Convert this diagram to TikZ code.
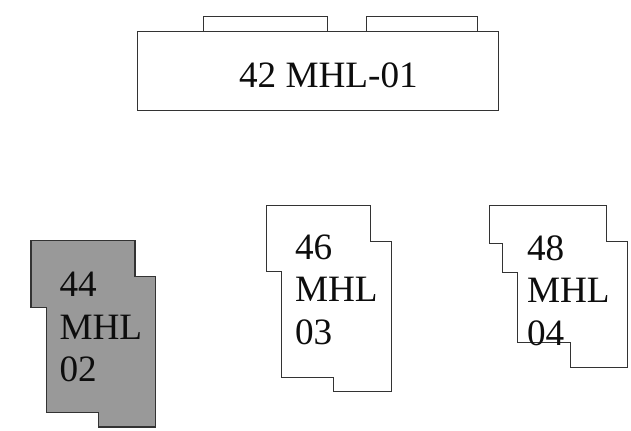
\documentclass[tikz,border=0pt]{standalone}
\usepackage{fontspec}
\setmainfont{Liberation Serif}
\definecolor{wingfill}{HTML}{999999}
\definecolor{wingline}{HTML}{333333}
\tikzset{
  outline/.style={draw=wingline,line width=0.75pt,line join=miter},
  wing/.style={outline,fill=white},
  graywing/.style={outline,fill=wingfill,line width=1pt},
  label/.style={inner sep=0pt,outer sep=0pt,font=\fontsize{27.9pt}{32pt}\selectfont,text=black!95,align=left,anchor=north west}
}
\begin{document}
\begin{tikzpicture}[x=0.75pt,y=-0.75pt]
\useasboundingbox (0,0) rectangle (631,431);
% block 42
\draw[wing] (137.7,32) -- (203.3,32) -- (203.3,17) -- (327.3,17) -- (327.3,32) -- (366,32) -- (366,17) -- (477.7,17) -- (477.7,32) -- (498.7,32) -- (498.7,110.7) -- (137.7,110.7) -- cycle;
\draw[outline] (203.3,32) -- (327.3,32) (366,32) -- (477.7,32);
\node[label,anchor=base west] (t42) at (239,87.3) {42 MHL-01};
% block 44
\draw[graywing] (31,240.7) -- (135,240.7) -- (135,276.7) -- (155.7,276.7) -- (155.7,427) -- (98.3,427) -- (98.3,412.3) -- (46.3,412.3) -- (46.3,307.7) -- (31,307.7) -- cycle;
\node[label] (t44) at (59.5,272) {44\\MHL\\02};
% block 46
\draw[wing] (266.3,205.7) -- (370.3,205.7) -- (370.3,241) -- (391.7,241) -- (391.7,391.3) -- (333.7,391.3) -- (333.7,377) -- (281.7,377) -- (281.7,271.7) -- (266.3,271.7) -- cycle;
\node[label] (t46) at (295,234.5) {46\\MHL\\03};
% block 48
\draw[wing] (489.3,205.7) -- (606.7,205.7) -- (606.7,241) -- (627.3,241) -- (627.3,367) -- (570.3,367) -- (570.3,342.3) -- (517.3,342.3) -- (517.3,272) -- (502.3,272) -- (502.3,243.3) -- (489.3,243.3) -- cycle;
\node[label] (t48) at (527,235.5) {48\\MHL\\04};
\end{tikzpicture}
\end{document}
